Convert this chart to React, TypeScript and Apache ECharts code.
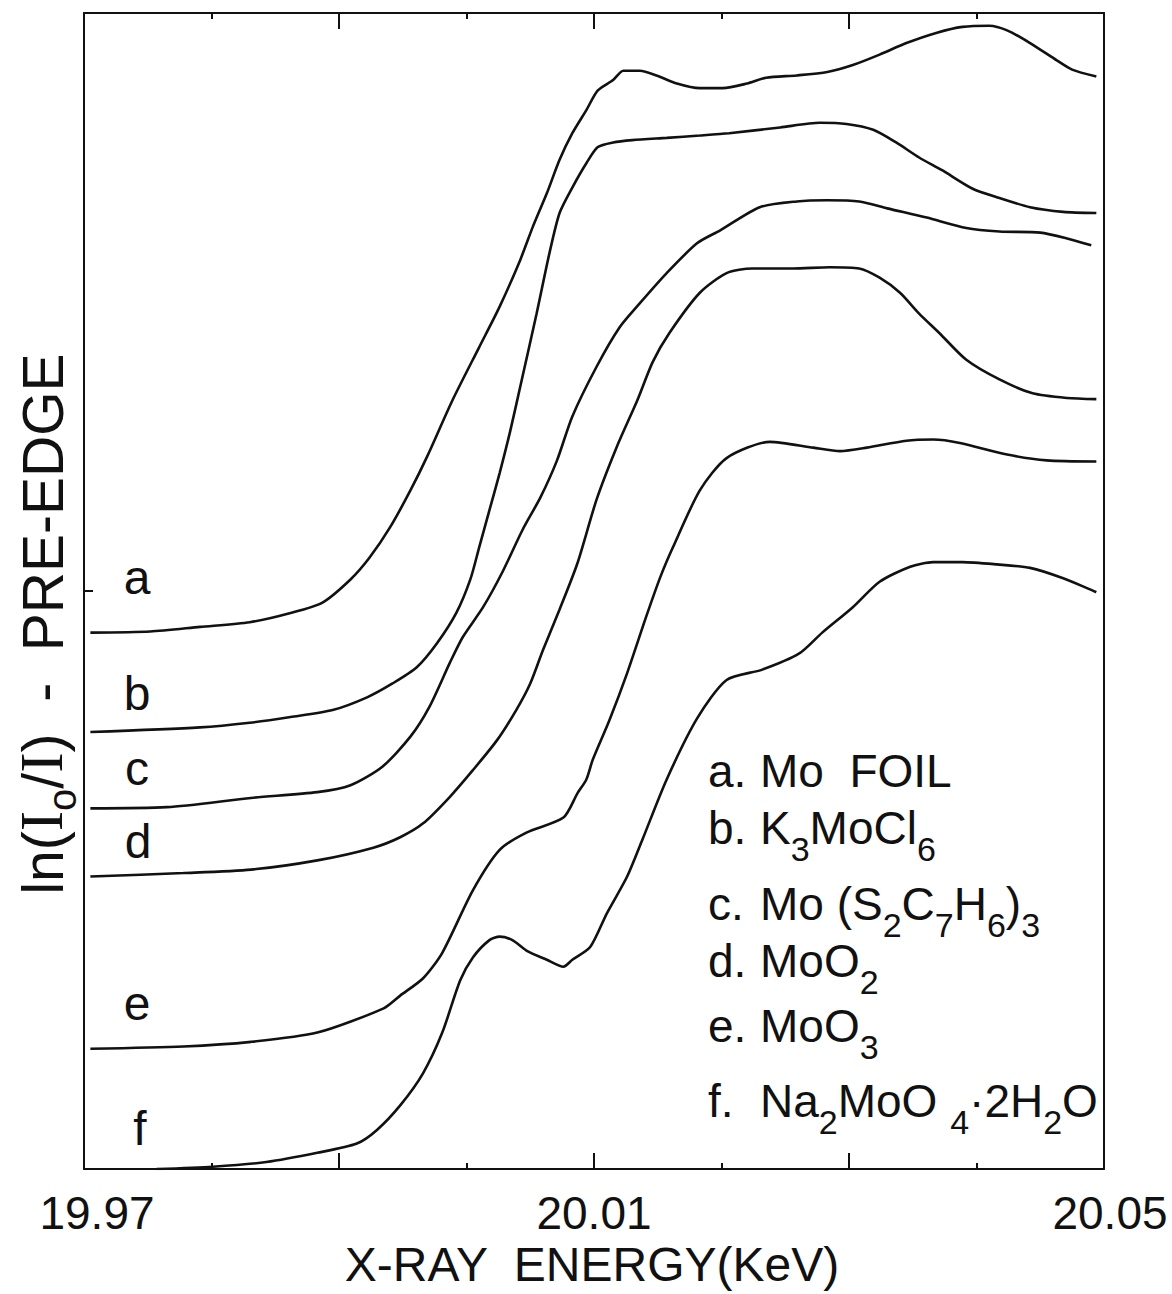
import { useEffect, useRef } from "react";
import * as echarts from "echarts";

const W = 1172;
const H = 1294;

// X-ray energy (eV) and normalised absorbance ln(I0/I) - pre-edge, offset per sample
const E_MIN = 19970;
const E_MAX = 20050;
const labelEnergies = [19970, 20010, 20050];
const majorTicks = [19990, 20010, 20030];
const minorTicks = [19980, 20000, 20020, 20040];
const yTicks = [5];

const moFoil = [
  [19970.5, 4.64], [19975.2, 4.65], [19979.1, 4.69], [19983.0, 4.73], [19986.2, 4.81],
  [19988.7, 4.9], [19990.9, 5.1], [19992.4, 5.29], [19994.0, 5.55], [19995.6, 5.87],
  [19996.9, 6.16], [19998.9, 6.65], [20001.0, 7.11], [20002.6, 7.46], [20004.2, 7.86],
  [20005.2, 8.15], [20006.3, 8.44], [20007.3, 8.73], [20008.3, 8.96], [20009.4, 9.16],
  [20010.3, 9.33], [20011.5, 9.42], [20012.3, 9.5], [20013.6, 9.5], [20014.9, 9.46],
  [20016.5, 9.39], [20018.3, 9.35], [20020.1, 9.35], [20022.0, 9.39], [20023.5, 9.44],
  [20025.9, 9.46], [20028.3, 9.49], [20030.3, 9.55], [20032.4, 9.64], [20034.5, 9.74],
  [20036.9, 9.83], [20038.9, 9.88], [20041.0, 9.89], [20042.4, 9.85], [20044.2, 9.74],
  [20046.3, 9.59], [20047.5, 9.51], [20049.4, 9.45],
];

const k3MoCl6 = [
  [19970.5, 3.78], [19979.1, 3.82], [19983.0, 3.86], [19986.2, 3.91], [19989.5, 3.97],
  [19992.2, 4.08], [19994.2, 4.2], [19996.1, 4.34], [19997.7, 4.55], [19999.2, 4.81],
  [20000.3, 5.1], [20001.0, 5.38], [20001.8, 5.7], [20002.6, 6.02], [20003.4, 6.37],
  [20004.2, 6.76], [20005.5, 7.4], [20006.5, 7.92], [20007.3, 8.27], [20008.3, 8.49],
  [20009.4, 8.7], [20010.3, 8.84], [20011.5, 8.88], [20013.0, 8.9], [20015.7, 8.92],
  [20018.3, 8.94], [20020.6, 8.96], [20024.6, 9.01], [20027.7, 9.05], [20029.8, 9.04],
  [20031.9, 8.99], [20033.7, 8.88], [20035.5, 8.75], [20037.3, 8.64], [20039.7, 8.48],
  [20041.8, 8.4], [20044.2, 8.32], [20046.8, 8.28], [20049.4, 8.27],
];

const moDithiolene = [
  [19970.5, 3.12], [19976.5, 3.13], [19983.1, 3.21], [19988.3, 3.26], [19990.9, 3.32],
  [19993.4, 3.48], [19995.6, 3.74], [19997.1, 4.0], [19998.7, 4.38], [19999.7, 4.6],
  [20001.3, 4.86], [20002.8, 5.16], [20004.4, 5.53], [20005.8, 5.81], [20007.1, 6.13],
  [20008.3, 6.51], [20010.2, 6.94], [20012.0, 7.28], [20013.6, 7.49], [20015.7, 7.75],
  [20018.1, 8.01], [20019.9, 8.12], [20023.0, 8.32], [20025.9, 8.37], [20028.3, 8.38],
  [20030.8, 8.37], [20033.0, 8.31], [20036.1, 8.23], [20039.2, 8.14], [20041.8, 8.11],
  [20045.0, 8.1], [20047.1, 8.05], [20049.0, 7.99],
];

const moO2 = [
  [19970.5, 2.53], [19977.8, 2.56], [19983.1, 2.59], [19988.3, 2.67], [19992.7, 2.78],
  [19994.8, 2.87], [19996.6, 2.99], [19998.7, 3.22], [20000.5, 3.45], [20002.4, 3.71],
  [20003.9, 3.97], [20005.0, 4.2], [20006.0, 4.49], [20007.3, 4.84], [20008.7, 5.24],
  [20010.2, 5.79], [20011.8, 6.25], [20013.4, 6.65], [20014.6, 6.98], [20015.9, 7.23],
  [20018.3, 7.58], [20020.4, 7.75], [20022.4, 7.79], [20025.6, 7.79], [20028.5, 7.8],
  [20030.8, 7.79], [20032.4, 7.71], [20034.0, 7.58], [20035.5, 7.4], [20037.1, 7.23],
  [20039.2, 7.0], [20041.8, 6.83], [20044.4, 6.71], [20047.1, 6.67], [20049.4, 6.66],
];

const moO3 = [
  [19970.5, 1.04], [19977.8, 1.06], [19983.1, 1.1], [19988.3, 1.18], [19993.5, 1.39],
  [19994.8, 1.5], [19996.6, 1.65], [19998.1, 1.87], [20000.5, 2.41], [20002.6, 2.76],
  [20004.7, 2.91], [20007.6, 3.04], [20008.7, 3.25], [20009.4, 3.37], [20009.9, 3.54],
  [20011.2, 3.88], [20012.6, 4.29], [20014.1, 4.78], [20015.2, 5.12], [20016.2, 5.38],
  [20018.3, 5.87], [20020.4, 6.15], [20023.8, 6.29], [20027.2, 6.24], [20029.3, 6.21],
  [20031.4, 6.24], [20034.5, 6.3], [20036.6, 6.31], [20038.7, 6.28], [20042.4, 6.18],
  [20045.5, 6.13], [20049.4, 6.12],
];

const naMolybdate = [
  [19975.7, 0.0], [19980.1, 0.02], [19984.3, 0.06], [19988.3, 0.14], [19991.4, 0.22],
  [19993.0, 0.34], [19994.8, 0.55], [19996.6, 0.83], [19998.1, 1.18], [19999.5, 1.63],
  [20000.5, 1.83], [20001.8, 1.98], [20002.6, 2.01], [20003.6, 1.98], [20004.7, 1.89],
  [20006.3, 1.81], [20007.6, 1.75], [20008.3, 1.81], [20009.7, 1.92], [20011.0, 2.21],
  [20012.6, 2.53], [20013.8, 2.85], [20015.7, 3.37], [20018.1, 3.9], [20020.4, 4.23],
  [20023.2, 4.32], [20026.1, 4.46], [20027.9, 4.64], [20030.3, 4.86], [20032.4, 5.08],
  [20034.8, 5.21], [20036.6, 5.25], [20038.9, 5.25], [20041.6, 5.23], [20044.2, 5.2],
  [20046.8, 5.11], [20049.4, 4.99],
];

const curveNames = ["a", "b", "c", "d", "e", "f"];
const curves = [moFoil, k3MoCl6, moDithiolene, moO2, moO3, naMolybdate];

// legend lines: prefix and formula in rich-text markup (s = subscript)
const legendPrefixes = ["a.", "b.", "c.", "d.", "e.", "f."];
const legendFormulas = [
  "{n|Mo  FOIL}",
  "{n|K}{s|3}{n|MoCl}{s|6}",
  "{n|Mo (S}{s|2}{n|C}{s|7}{n|H}{s|6}{n|)}{s|3}",
  "{n|MoO}{s|2}",
  "{n|MoO}{s|3}",
  "{n|Na}{s|2}{n|MoO }{s|4}{n|·2H}{s|2}{n|O}",
];

const INK = "#111";
const SANS = "'Liberation Sans', Arial, sans-serif";

const GRID = { left: 84, right: W - 1104, top: 13, bottom: H - 1169, outerBoundsMode: "none", containLabel: false };

const legendRich = {
  n: { fontSize: 46, fontFamily: SANS, fill: INK, verticalAlign: "bottom", padding: [0, 0, 15, 0] },
  s: { fontSize: 34, fontFamily: SANS, fill: INK, verticalAlign: "bottom" },
};

const curveLabelPos = [
  [137, 577], [137, 693], [137, 768], [138, 841], [137, 1003], [140, 1128],
];
const legendLineY = [778, 835, 911, 968, 1033, 1108];

const tickFont = { fontSize: 46, fontFamily: SANS, color: INK, lineHeight: 40 };

function frameAxis(position: "top" | "bottom", ticks: number[], len: number, showLine: boolean, withLabels: boolean) {
  return {
    type: "value",
    position,
    min: E_MIN,
    max: E_MAX,
    axisLine: { show: showLine, onZero: false, lineStyle: { color: INK, width: 2 } },
    axisTick: { show: true, inside: true, length: len, customValues: ticks, lineStyle: { color: INK, width: 2 } },
    axisLabel: withLabels
      ? {
          show: true,
          customValues: labelEnergies,
          margin: 24,
          color: INK,
          hideOverlap: false,
          formatter: (v: number) => {
            const s = (v / 1000).toFixed(2);
            if (v === E_MIN) return `{l|${s}}`;
            if (v === E_MAX) return `{r|${s}}`;
            return `{m|${s}}`;
          },
          rich: {
            l: { ...tickFont, padding: [0, 0, 0, 26] },
            m: { ...tickFont },
            r: { ...tickFont, padding: [0, 0, 0, 12] },
          },
        }
      : { show: false },
    splitLine: { show: false },
  };
}

function frameYAxis(position: "left" | "right", ticks: number[]) {
  return {
    type: "value",
    position,
    min: 0,
    max: 10,
    axisLine: { show: true, onZero: false, lineStyle: { color: INK, width: 2 } },
    axisTick: { show: ticks.length > 0, inside: true, length: 9, customValues: ticks, lineStyle: { color: INK, width: 2 } },
    axisLabel: { show: false },
    splitLine: { show: false },
  };
}

export default function App() {
  const ref = useRef<HTMLDivElement>(null);

  useEffect(() => {
    if (!ref.current) return;
    const chart = echarts.init(ref.current, null, { renderer: "svg", width: W, height: H });

    const graphic: any[] = [];
    curveNames.forEach((name, i) => {
      graphic.push({
        type: "text",
        x: curveLabelPos[i][0],
        y: curveLabelPos[i][1],
        z: 50,
        style: { text: name, fontSize: 48, fontFamily: SANS, fill: INK, align: "center", verticalAlign: "middle" },
      });
    });
    legendPrefixes.forEach((p, i) => {
      graphic.push({
        type: "text",
        x: 708,
        y: legendLineY[i],
        z: 50,
        style: { text: `{n|${p}}`, rich: legendRich, align: "left", verticalAlign: "middle" },
      });
      graphic.push({
        type: "text",
        x: 760,
        y: legendLineY[i],
        z: 50,
        style: { text: legendFormulas[i], rich: legendRich, align: "left", verticalAlign: "middle" },
      });
    });
    graphic.push({
      type: "text",
      x: 592,
      y: 1264,
      z: 50,
      style: { text: "X-RAY  ENERGY(KeV)", fontSize: 48, fontFamily: SANS, fill: INK, align: "center", verticalAlign: "middle" },
    });
    graphic.push({
      type: "text",
      x: 46,
      y: 624,
      rotation: Math.PI / 2,
      z: 50,
      style: {
        text: "{n|ln(}{i|I}{o|o}{n|/}{i|I}{n|)  -  PRE-EDGE}",
        align: "center",
        verticalAlign: "middle",
        rich: {
          n: { fontSize: 57, fontFamily: SANS, fill: INK, verticalAlign: "bottom", padding: [0, 0, 10, 0] },
          i: { fontSize: 61, fontFamily: "'Liberation Serif', serif", fill: INK, verticalAlign: "bottom", padding: [0, 0, 10, 0] },
          o: { fontSize: 40, fontFamily: SANS, fill: INK, verticalAlign: "bottom" },
        },
      },
    });

    chart.setOption({
      animation: false,
      backgroundColor: "#fff",
      grid: GRID,
      xAxis: [
        frameAxis("bottom", majorTicks, 16, true, true),
        frameAxis("bottom", minorTicks, 6, false, false),
        frameAxis("top", majorTicks, 16, true, false),
        frameAxis("top", minorTicks, 6, false, false),
      ],
      yAxis: [frameYAxis("left", yTicks), frameYAxis("right", [])],
      series: curves.map((data, i) => ({
        name: curveNames[i],
        type: "line",
        xAxisIndex: 0,
        yAxisIndex: 0,
        data,
        showSymbol: false,
        symbol: "none",
        smooth: 0.25,
        lineStyle: { color: INK, width: 2.6 },
      })),
      graphic,
    });

    return () => chart.dispose();
  }, []);

  return (
    <div
      ref={ref}
      style={{ position: "fixed", left: 0, top: 0, width: W, height: H, background: "#fff" }}
    />
  );
}
